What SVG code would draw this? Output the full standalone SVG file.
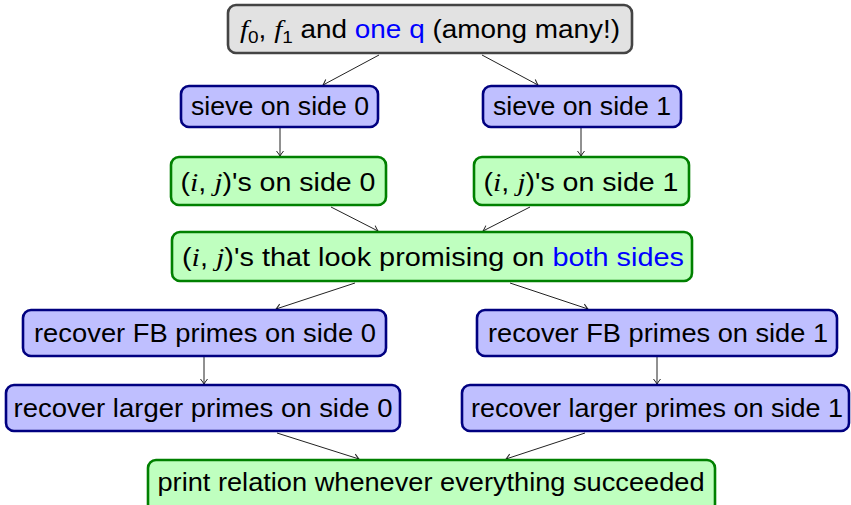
<svg xmlns="http://www.w3.org/2000/svg" width="851" height="505" viewBox="0 0 851 505">
<defs>
<marker id="arr" markerUnits="userSpaceOnUse" markerWidth="12" markerHeight="12" viewBox="-6 -6 12 12" refX="0" refY="0" orient="auto">
<path d="M-5,-3.5 Q-1.5,-0.8 0,0 Q-1.5,0.8 -5,3.5" fill="none" stroke="#222" stroke-width="1"/>
</marker>
<style>
.gray{fill:#e2e2e2;stroke:#444;stroke-width:2.6}
.blue{fill:#bfbfff;stroke:#000080;stroke-width:2.6}
.green{fill:#bfffbf;stroke:#008000;stroke-width:2.6}
text{font-family:"Liberation Sans","DejaVu Sans",sans-serif;font-size:25px;fill:#000;text-anchor:middle}
.m{font-family:"Liberation Serif","DejaVu Serif",serif;font-style:italic;font-size:26px}
.sub{font-size:17px}
.hl{fill:#0000ff}
.c line{stroke:#222;stroke-width:1;marker-end:url(#arr)}
</style>
</defs>
<g class="c" id="connectors">
<line x1="379" y1="55" x2="323" y2="85"/>
<line x1="482" y1="55" x2="538" y2="85"/>
<line x1="280" y1="128" x2="280" y2="156"/>
<line x1="581" y1="128" x2="581" y2="156"/>
<line x1="331" y1="207" x2="378" y2="231"/>
<line x1="530" y1="207" x2="483" y2="231"/>
<line x1="355" y1="283" x2="276" y2="309"/>
<line x1="510" y1="283" x2="588" y2="309"/>
<line x1="204" y1="357" x2="204" y2="384"/>
<line x1="657" y1="357" x2="657" y2="384"/>
<line x1="277" y1="433" x2="359" y2="459"/>
<line x1="585" y1="433" x2="506" y2="459"/>
</g>
<g id="top">
<rect class="gray" x="228" y="5" width="404" height="48" rx="8"/>
<text x="430" y="38" textLength="380" lengthAdjust="spacingAndGlyphs"><tspan class="m">f</tspan><tspan class="sub" dy="5">0</tspan><tspan dy="-5">, </tspan><tspan class="m">f</tspan><tspan class="sub" dy="5">1</tspan><tspan dy="-5"> and </tspan><tspan class="hl">one q</tspan> (among many!)</text>
</g>
<g id="sieve0">
<rect class="blue" x="181" y="86" width="197" height="41" rx="8"/>
<text x="280" y="115" textLength="178" lengthAdjust="spacingAndGlyphs">sieve on side 0</text>
</g>
<g id="sieve1">
<rect class="blue" x="483" y="86" width="198" height="41" rx="8"/>
<text x="582" y="115" textLength="178" lengthAdjust="spacingAndGlyphs">sieve on side 1</text>
</g>
<g id="ij0">
<rect class="green" x="171" y="157" width="215" height="48" rx="8"/>
<text x="278" y="191" textLength="195" lengthAdjust="spacingAndGlyphs">(<tspan class="m">i</tspan>, <tspan class="m">j</tspan>)'s on side 0</text>
</g>
<g id="ij1">
<rect class="green" x="474" y="157" width="215" height="48" rx="8"/>
<text x="581" y="191" textLength="195" lengthAdjust="spacingAndGlyphs">(<tspan class="m">i</tspan>, <tspan class="m">j</tspan>)'s on side 1</text>
</g>
<g id="both">
<rect class="green" x="172" y="232" width="520" height="49" rx="8"/>
<text x="433" y="266" textLength="502" lengthAdjust="spacingAndGlyphs">(<tspan class="m">i</tspan>, <tspan class="m">j</tspan>)'s that look promising on <tspan class="hl">both sides</tspan></text>
</g>
<g id="fb0">
<rect class="blue" x="23" y="310" width="363" height="46" rx="8"/>
<text x="205" y="342" textLength="342" lengthAdjust="spacingAndGlyphs">recover FB primes on side 0</text>
</g>
<g id="fb1">
<rect class="blue" x="477" y="310" width="360" height="46" rx="8"/>
<text x="658" y="342" textLength="340" lengthAdjust="spacingAndGlyphs">recover FB primes on side 1</text>
</g>
<g id="lp0">
<rect class="blue" x="6" y="385" width="394" height="46" rx="8"/>
<text x="203" y="417" textLength="379" lengthAdjust="spacingAndGlyphs">recover larger primes on side 0</text>
</g>
<g id="lp1">
<rect class="blue" x="462" y="385" width="387" height="46" rx="8"/>
<text x="657" y="417" textLength="372" lengthAdjust="spacingAndGlyphs">recover larger primes on side 1</text>
</g>
<g id="print">
<rect class="green" x="148" y="460" width="567" height="52" rx="8"/>
<text x="431" y="491" textLength="547" lengthAdjust="spacingAndGlyphs">print relation whenever everything succeeded</text>
</g>
</svg>
